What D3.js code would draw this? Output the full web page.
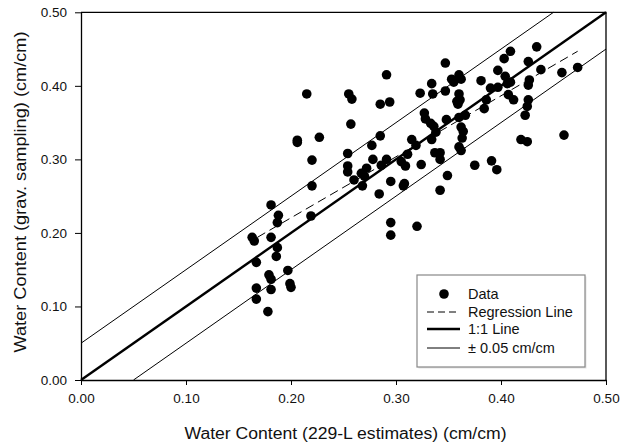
<!DOCTYPE html>
<html>
<head>
<meta charset="utf-8">
<script src="https://cdn.jsdelivr.net/npm/d3@7"></script>
<style>
    body { margin: 0; background: #fff; }
    text { font-family: "Liberation Sans", Arial, sans-serif; fill: #111; }
</style>
</head>
<body>
<svg id="chart" width="621" height="444"></svg>
<script>
// 229-L estimate (x) vs gravimetric sampling (y)
var estX = [0.163, 0.165, 0.181, 0.188, 0.187, 0.181, 0.187, 0.186, 0.167, 0.179, 0.181, 0.167, 0.181,
    0.197, 0.199, 0.200, 0.167, 0.178,
    0.215, 0.219, 0.220, 0.220, 0.206, 0.206, 0.227,
    0.255, 0.258, 0.257, 0.254, 0.254, 0.254, 0.260,
    0.267, 0.268, 0.272, 0.270, 0.277, 0.278, 0.285, 0.285, 0.284, 0.291, 0.294, 0.291, 0.286,
    0.295, 0.295, 0.295, 0.305, 0.308, 0.309, 0.307, 0.311, 0.315, 0.319, 0.320, 0.323, 0.324,
    0.327, 0.328, 0.333, 0.334, 0.335, 0.334, 0.336, 0.338, 0.337, 0.342, 0.342, 0.342,
    0.347, 0.347, 0.348, 0.349, 0.353, 0.355, 0.358, 0.359, 0.360, 0.360, 0.361, 0.362,
    0.360, 0.362, 0.364, 0.366, 0.363, 0.360, 0.362, 0.375, 0.381, 0.384, 0.386, 0.390,
    0.391, 0.396, 0.397, 0.397, 0.403, 0.404, 0.409, 0.406, 0.407, 0.412, 0.409,
    0.419, 0.423, 0.425, 0.425, 0.426, 0.426, 0.427, 0.426, 0.434, 0.438, 0.458, 0.460, 0.473];
var gravY = [0.194, 0.189, 0.238, 0.224, 0.214, 0.194, 0.180, 0.168, 0.160, 0.143, 0.137, 0.125, 0.123,
    0.149, 0.131, 0.126, 0.110, 0.093,
    0.389, 0.223, 0.264, 0.299, 0.326, 0.323, 0.330,
    0.389, 0.382, 0.348, 0.308, 0.291, 0.283, 0.272,
    0.281, 0.264, 0.288, 0.277, 0.319, 0.300, 0.332, 0.375, 0.253, 0.415, 0.378, 0.300, 0.292,
    0.270, 0.214, 0.197, 0.297, 0.267, 0.291, 0.264, 0.307, 0.327, 0.319, 0.209, 0.390, 0.293,
    0.363, 0.355, 0.349, 0.403, 0.389, 0.327, 0.345, 0.337, 0.309, 0.309, 0.300, 0.258,
    0.431, 0.393, 0.354, 0.278, 0.409, 0.405, 0.379, 0.375, 0.415, 0.389, 0.381, 0.409,
    0.357, 0.344, 0.338, 0.360, 0.329, 0.317, 0.312, 0.292, 0.407, 0.369, 0.381, 0.397,
    0.298, 0.286, 0.421, 0.398, 0.437, 0.413, 0.447, 0.403, 0.388, 0.381, 0.405,
    0.327, 0.360, 0.324, 0.372, 0.381, 0.401, 0.408, 0.433, 0.453, 0.422, 0.418, 0.333, 0.425];

var ticks      = [0.0, 0.1, 0.2, 0.3, 0.4, 0.5];
var oneToOne   = [[0, 0], [0.5, 0.5]];
var upperBand  = [[0, 0.05], [0.45, 0.5]];
var lowerBand  = [[0.05, 0], [0.5, 0.45]];
var regression = [[0.168, 0.194], [0.473, 0.447]];
var legendItems = ["Data", "Regression Line", "1:1 Line", "\u00b1 0.05 cm/cm"];

var svg = d3.select("#chart");
var plotLeft = 81, plotRight = 606, plotTop = 12.3, plotBottom = 380;

var x = d3.scaleLinear().domain([0, 0.5]).range([plotLeft, plotRight]);
var y = d3.scaleLinear().domain([0, 0.5]).range([plotBottom, plotTop]);

var line = d3.line().x(function(d) { return x(d[0]); }).y(function(d) { return y(d[1]); });

// reference lines
svg.append("path").datum(upperBand).attr("d", line).attr("stroke", "#000").attr("stroke-width", 1).attr("fill", "none");
svg.append("path").datum(lowerBand).attr("d", line).attr("stroke", "#000").attr("stroke-width", 1).attr("fill", "none");
svg.append("path").datum(oneToOne).attr("d", line).attr("stroke", "#000").attr("stroke-width", 2.4).attr("fill", "none");
svg.append("path").datum(regression).attr("d", line).attr("stroke", "#000").attr("stroke-width", 1)
    .attr("stroke-dasharray", "9,5").attr("fill", "none");

// data points
svg.append("g").selectAll("circle").data(estX).enter().append("circle")
    .attr("cx", function(d) { return x(d); })
    .attr("cy", function(d, i) { return y(gravY[i]); })
    .attr("r", 4.8)
    .attr("fill", "#000");

// axes + frame
var fmt = d3.format(".2f");
svg.append("g").attr("transform", "translate(0," + plotBottom + ")")
    .call(d3.axisBottom(x).tickValues(ticks).tickFormat(fmt).tickSize(5).tickPadding(8).tickSizeOuter(0))
    .call(function(g) {
        g.select(".domain").attr("stroke-width", 1.3);
        g.selectAll("text").attr("font-size", "13.5px").attr("font-family", "Liberation Sans, Arial, sans-serif");
    });
svg.append("g").attr("transform", "translate(" + plotLeft + ",0)")
    .call(d3.axisLeft(y).tickValues(ticks).tickFormat(fmt).tickSize(6).tickPadding(8).tickSizeOuter(0))
    .call(function(g) {
        g.select(".domain").attr("stroke-width", 1.3);
        g.selectAll("text").attr("font-size", "13.5px").attr("font-family", "Liberation Sans, Arial, sans-serif");
    });
svg.append("path").attr("d", "M" + plotLeft + "," + plotTop + "H" + plotRight + "V" + plotBottom)
    .attr("stroke", "#000").attr("stroke-width", 1.3).attr("fill", "none");

// titles
svg.append("text").attr("x", (plotLeft + plotRight) / 2 + 2).attr("y", 439).attr("text-anchor", "middle")
    .attr("font-size", "16px").attr("textLength", 322).attr("lengthAdjust", "spacingAndGlyphs")
    .text("Water Content (229-L estimates) (cm/cm)");
svg.append("text").attr("transform", "translate(26,192) rotate(-90)").attr("text-anchor", "middle")
    .attr("font-size", "16px").attr("textLength", 321).attr("lengthAdjust", "spacingAndGlyphs")
    .text("Water Content (grav. sampling) (cm/cm)");

// legend
var lg = svg.append("g").attr("transform", "translate(417,275)");
lg.append("rect").attr("x", 1.5).attr("y", 1.5).attr("width", 168).attr("height", 92).attr("fill", "#e4e4e4");
lg.append("rect").attr("width", 168).attr("height", 92).attr("fill", "#fff").attr("stroke", "#888").attr("stroke-width", 1.2);
var rowY = [19, 37, 54, 73];
lg.append("circle").attr("cx", 27).attr("cy", rowY[0]).attr("r", 4.8).attr("fill", "#000");
lg.append("line").attr("x1", 10).attr("x2", 43).attr("y1", rowY[1]).attr("y2", rowY[1])
    .attr("stroke", "#000").attr("stroke-dasharray", "7,4");
lg.append("line").attr("x1", 10).attr("x2", 43).attr("y1", rowY[2]).attr("y2", rowY[2])
    .attr("stroke", "#000").attr("stroke-width", 2.4);
lg.append("line").attr("x1", 10).attr("x2", 43).attr("y1", rowY[3]).attr("y2", rowY[3])
    .attr("stroke", "#000").attr("stroke-width", 1);
lg.selectAll("text.item").data(legendItems).enter().append("text").attr("class", "item")
    .attr("x", 51).attr("y", function(d, i) { return rowY[i] + 5; })
    .attr("font-size", "14.5px")
    .text(function(d) { return d; });
</script>
</body>
</html>
